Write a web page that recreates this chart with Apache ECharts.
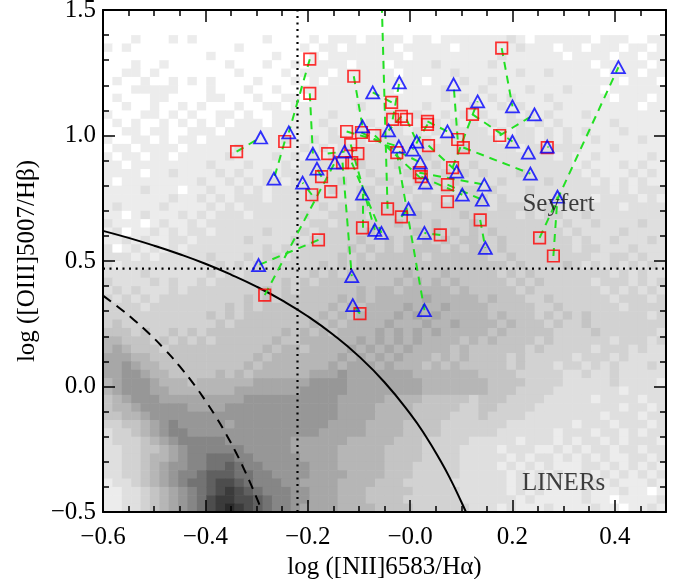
<!DOCTYPE html>
<html>
<head>
<meta charset="utf-8">
<script src="https://cdn.jsdelivr.net/npm/echarts@6/dist/echarts.min.js"></script>
<style>
  html, body { margin: 0; padding: 0; background: #fff; }
  #chart { width: 678px; height: 579px; }
</style>
</head>
<body>
<div id="chart"></div>
<script>
// axis ranges and density grid bins (60 x 60 over the full frame)
const X_MIN = -0.6, X_MAX = 0.5, Y_MIN = -0.5, Y_MAX = 1.5;
const NX = 60, NY = 60;

// grey level per bin, one row per y bin, top row first (top 3 bins are empty)
// 0 = white ... d = darkest
const densityRows = [
  '0001000101 0000000100 0010111011 1101101111 1112101111 1101110011',
  '1010000000 0000100000 0101101111 1011111011 1111211101 1011101101',
  '0000000000 0100000010 0010111111 1101111111 1121111110 1111011011',
  '0001001000 0001000100 1011110111 0111121111 1211111111 1101111101',
  '0011010000 0000100001 0111011111 1011111211 1111211211 1110111011',
  '0100100101 0100001000 1010111111 1111011121 1211111111 1111101110',
  '0001111100 0100010010 0111111111 1011112111 2111121112 1110111111',
  '0100011000 0110001001 1011111111 1111112121 1212111211 1111011101',
  '0010010010 1000100110 1111111211 1111211112 1121211121 1111111011',
  '1000110101 0011010011 1111211111 2112112121 2112121211 1211111111',
  '0101001010 1010111011 1112111121 1211221212 1212212121 1111211111',
  '0011011001 1101111111 1111211212 2212121222 2121221212 1211121111',
  '1001101011 0111111112 1121221212 2222212222 2212221212 1121111211',
  '0110111101 1111211111 1212122222 2122222232 2222122222 2111211111',
  '1011011011 1112111121 2121222222 2222322222 2222222212 1121111121',
  '1101111111 1211121112 1222222322 2322232223 2222222222 1211121211',
  '1111011211 1121211212 2222222232 2232223232 3222322222 2121112121',
  '1011111111 2112121221 2222232223 3223232322 2232222322 2212121211',
  '1111211101 1211212122 2222322332 2332323233 2322232222 2222121222',
  '1111111211 2121222122 2232222333 3323332323 3232222232 2212222121',
  '1211112111 1212122222 2223232333 3333233333 3233322322 2222212222',
  '1101211121 2122212222 2322333323 3334333343 3333232332 2322222222',
  '2111012112 1222222222 2233233333 3433343334 3333333323 2232222322',
  '1201121212 2122222322 2323333343 3334343434 3433333332 3222232222',
  '1121211221 2222232222 3233333433 4343434344 3343333333 2322322232',
  '2012121212 2222222323 2333334343 4344443434 4343333333 2332223222',
  '2221212222 2322232332 3333343434 4444344444 4334333333 3322332322',
  '2122222222 2232323233 3334343444 4444444444 4443433334 3232323232',
  '2222322222 2323233333 3343434444 4454445444 4434343333 3333232322',
  '3222232322 3233333334 3434444444 4545454544 4443434333 3323332323',
  '2323222323 3333333434 3444444545 5455555454 4444343333 3332323232',
  '3232323333 3333343434 4444454545 5555655555 4544433433 3333233323',
  '3333233333 3334343444 4444545455 5565556555 5444443343 3333323333',
  '3333333333 3434344444 4445454555 5656565555 5454443434 3433333323',
  '3433333333 3343444444 4454545555 6555655655 5545444343 3433333333',
  '4443433434 3444444445 4545455556 5656565555 5454444433 3343333332',
  '5544434343 4344444454 4555555656 5656555545 4544443433 3333233323',
  '5654443444 4444444545 5455556565 6565555454 4444434333 3323332322',
  '6665544444 4444445455 5555565656 5655545454 4443433333 2333232222',
  '6676554444 4444454555 5555656665 6555454544 4443433323 3232322232',
  '6677655444 4454545555 5566676666 6665555555 4444333332 2322322222',
  '5677765554 5555556666 6677776666 6666555555 5444433332 2222322221',
  '5677766555 5555666666 6777776666 6666555555 5444333322 2222212222',
  '4567776666 6666677777 7777766666 5555444443 4443333222 2212222122',
  '4556777776 6667777777 7777766665 5554444433 4433332222 2222212212',
  '4455677777 7777777777 7777766665 5554444333 4333322222 2221222122',
  '3344567877 7776777777 7777666655 5544443333 3332222222 1222122212',
  '2334567887 7777777777 7776666655 5544443333 3322222212 2212212122',
  '2333456788 8887777777 6666665555 5444333332 2222122212 1221212221',
  '2233445678 8888877777 6666655555 4444333322 2212221121 2122122122',
  '2233455678 8999887777 7666655555 4444333322 2221212212 1212112212',
  '2233456778 899a988777 7766655555 4443333322 2212121211 1221212121',
  '2233456788 9aaa998877 7766665555 4443333322 2221212121 1212121212',
  '1223456789 9abba98887 7666655554 4433333222 2221212111 1121211121',
  '1122345678 9abcba9888 7766655544 4443333322 2221212111 1211121101',
  '1122345678 9bccbba988 7766655544 4433333322 2222121111 1211011112',
  '1122345678 9bcdcba988 7666655554 4443333332 2212111211 1121101121'
];
const grayLevels = ['#ffffff', '#ececec', '#dfdfdf', '#d2d2d2', '#c4c4c4', '#b6b6b6',
  '#a7a7a7', '#979797', '#868686', '#737373', '#606060', '#4d4d4d', '#3b3b3b', '#2a2a2a'];

// red squares [log NII/Ha, log OIII/Hb]
const squares = [
  [-0.339, 0.936], [-0.245, 0.976], [-0.196, 1.304], [-0.196, 1.168], [-0.161, 0.928],
  [-0.173, 0.836], [-0.192, 0.764], [-0.155, 0.776], [-0.179, 0.584], [-0.284, 0.364],
  [-0.110, 1.236], [-0.036, 1.132], [-0.034, 1.064], [-0.017, 1.076], [-0.007, 1.064],
  [0.034, 1.056], [0.034, 1.044], [-0.124, 1.016], [-0.095, 1.012], [-0.069, 1.000],
  [-0.116, 0.964], [-0.102, 0.928], [-0.132, 0.892], [-0.114, 0.892], [-0.026, 0.932],
  [0.036, 0.960], [0.093, 0.984], [0.104, 0.952], [0.122, 1.084], [0.175, 1.000],
  [0.179, 1.348], [0.268, 0.952], [0.018, 0.852], [0.022, 0.836], [0.083, 0.872],
  [0.073, 0.804], [0.073, 0.736], [-0.044, 0.708], [-0.017, 0.676], [-0.093, 0.632],
  [0.059, 0.604], [0.137, 0.664], [0.253, 0.592], [0.280, 0.520], [-0.098, 0.290]
];
// blue triangles (last one lies above the frame)
const triangles = [
  [-0.292, 0.992], [-0.237, 1.012], [-0.266, 0.828], [-0.190, 0.928], [-0.182, 0.868],
  [-0.210, 0.812], [-0.147, 0.892], [-0.296, 0.484], [-0.073, 1.172], [-0.021, 1.212],
  [0.085, 1.204], [0.132, 1.136], [0.200, 1.116], [0.243, 1.084], [0.407, 1.272],
  [-0.093, 1.036], [-0.042, 1.020], [0.073, 1.016], [0.013, 0.976], [0.200, 0.976],
  [-0.128, 0.936], [-0.022, 0.956], [0.005, 0.944], [0.231, 0.932], [0.020, 0.892],
  [0.091, 0.856], [0.030, 0.812], [0.235, 0.848], [0.145, 0.804], [0.102, 0.764],
  [0.141, 0.744], [0.288, 0.756], [-0.093, 0.768], [-0.003, 0.708], [-0.069, 0.624],
  [-0.056, 0.612], [0.028, 0.612], [0.147, 0.552], [-0.114, 0.440], [-0.112, 0.324],
  [0.028, 0.304], [0.268, 0.956], [-0.058, 1.720]
];
// [square number, triangle number] joined by green dashes
const pairs = [
  [1, 1], [2, 3], [3, 2], [4, 4], [5, 21], [6, 5], [7, 6], [9, 8], [10, 7], [11, 16],
  [12, 9], [13, 10], [14, 17], [15, 19], [16, 18], [17, 23], [18, 22], [19, 25], [20, 27],
  [21, 35], [23, 39], [24, 36], [25, 41], [26, 26], [27, 11], [28, 28], [29, 20], [30, 14],
  [31, 13], [32, 42], [33, 29], [34, 30], [35, 12], [36, 31], [38, 43], [39, 34], [40, 33],
  [41, 37], [42, 38], [43, 15], [44, 32], [45, 40]
];

// demarcation curves
const kewleyLine = [
  [-0.60, 0.620], [-0.55, 0.592], [-0.50, 0.561], [-0.45, 0.527], [-0.40, 0.489],
  [-0.35, 0.446], [-0.30, 0.398], [-0.25, 0.343], [-0.20, 0.280], [-0.15, 0.206],
  [-0.10, 0.120], [-0.05, 0.017], [0.00, -0.108], [0.03, -0.196], [0.06, -0.298],
  [0.08, -0.374], [0.10, -0.459], [0.11, -0.504]
];
const kauffmannLine = [
  [-0.60, 0.362], [-0.57, 0.316], [-0.54, 0.266], [-0.51, 0.211], [-0.48, 0.149],
  [-0.45, 0.080], [-0.42, 0.002], [-0.40, -0.056], [-0.38, -0.119], [-0.36, -0.188],
  [-0.34, -0.264], [-0.32, -0.349], [-0.30, -0.443], [-0.29, -0.494], [-0.288, -0.505]
];
const nIICut = -0.22;
const oIIICut = 0.47;

const regionLabels = [
  { name: 'Seyfert', value: [0.290, 0.725] },
  { name: 'LINERs', value: [0.300, -0.385] }
];

// build heatmap cells (white bins included so the frame area is fully covered)
const dx = (X_MAX - X_MIN) / NX, dy = (Y_MAX - Y_MIN) / NY;
const cells = [];
densityRows.forEach((row, r) => {
  const s = row.replace(/ /g, '');
  const j = NY - 4 - r;
  for (let i = 0; i < s.length && i < NX; i++) {
    const lv = parseInt(s[i], 16);
    cells.push([X_MIN + i * dx, Y_MIN + j * dy, X_MIN + (i + 1) * dx, Y_MIN + (j + 1) * dy, lv]);
  }
});

const pairLines = pairs.map(p => ({ coords: [squares[p[0] - 1], triangles[p[1] - 1]] }));

const FONT = 'Liberation Serif';
const fmtNum = v => {
  if (Math.abs(v) < 1e-9) return '\u22120.0';
  return (v < 0 ? '\u2212' : '') + Math.abs(v).toFixed(1);
};
const fmtY = v => {
  if (Math.abs(v) < 1e-9) return '0.0';
  return (v < 0 ? '\u2212' : '') + Math.abs(v).toFixed(1);
};

const frameLine = { show: true, onZero: false, lineStyle: { color: '#000', width: 2 } };
const majorTick = { show: true, inside: true, length: 12, lineStyle: { color: '#000', width: 1.5 } };

function tickAxis(extra) {
  return Object.assign({
    type: 'value', z: 8,
    axisLine: { show: false, onZero: false },
    axisLabel: { show: false },
    splitLine: { show: false },
    axisTick: { show: true, inside: true, length: 6, lineStyle: { color: '#000', width: 1.5 } }
  }, extra);
}

const chart = echarts.init(document.getElementById('chart'));
chart.setOption({
  animation: false,
  backgroundColor: '#fff',
  grid: { left: 103, right: 12, top: 10, bottom: 67, outerBoundsMode: 'none', containLabel: false },
  xAxis: [
    {
      type: 'value', z: 8, min: X_MIN, max: X_MAX, interval: 0.2, position: 'bottom',
      name: 'log ([NII]6583/H\u03b1)', nameLocation: 'middle', nameGap: 34,
      nameTextStyle: { fontFamily: FONT, fontSize: 25, color: '#000' },
      axisLine: frameLine,
      axisTick: majorTick,
      axisLabel: { formatter: fmtNum, fontFamily: FONT, fontSize: 25, color: '#000', margin: 13, showMaxLabel: false },
      splitLine: { show: false }
    },
    tickAxis({ min: X_MIN, max: X_MAX, interval: 0.05, position: 'bottom' }),
    tickAxis({ min: X_MIN, max: X_MAX, interval: 0.2, position: 'top', axisLine: frameLine, axisTick: majorTick }),
    tickAxis({ min: X_MIN, max: X_MAX, interval: 0.05, position: 'top' })
  ],
  yAxis: [
    {
      type: 'value', z: 8, min: Y_MIN, max: Y_MAX, interval: 0.5, position: 'left',
      name: 'log ([OIII]5007/H\u03b2)', nameLocation: 'middle', nameGap: 60,
      nameTextStyle: { fontFamily: FONT, fontSize: 25, color: '#000' },
      axisLine: frameLine,
      axisTick: majorTick,
      axisLabel: { formatter: fmtY, fontFamily: FONT, fontSize: 25, color: '#000', margin: 7 },
      splitLine: { show: false }
    },
    tickAxis({ min: Y_MIN, max: Y_MAX, interval: 0.1, position: 'left' }),
    tickAxis({ min: Y_MIN, max: Y_MAX, interval: 0.5, position: 'right', axisLine: frameLine, axisTick: majorTick }),
    tickAxis({ min: Y_MIN, max: Y_MAX, interval: 0.1, position: 'right' })
  ],
  series: [
    {
      type: 'custom', silent: true, z: 1,
      data: cells,
      renderItem: (params, api) => {
        const p0 = api.coord([api.value(0), api.value(3)]);
        const p1 = api.coord([api.value(2), api.value(1)]);
        return {
          type: 'rect',
          shape: { x: p0[0], y: p0[1], width: p1[0] - p0[0] + 0.6, height: p1[1] - p0[1] + 0.6 },
          style: { fill: grayLevels[api.value(4)] }
        };
      }
    },
    {
      type: 'line', z: 3, silent: true, showSymbol: false, smooth: true,
      data: kauffmannLine,
      lineStyle: { color: '#000', width: 2, type: [10, 7] }
    },
    {
      type: 'line', z: 3, silent: true, showSymbol: false, smooth: true,
      data: kewleyLine,
      lineStyle: { color: '#000', width: 2 }
    },
    {
      type: 'line', z: 3, silent: true, showSymbol: false,
      data: [[nIICut, Y_MIN], [nIICut, Y_MAX]],
      lineStyle: { color: '#000', width: 2.2, type: [2, 4.5] }
    },
    {
      type: 'line', z: 3, silent: true, showSymbol: false,
      data: [[X_MIN, oIIICut], [X_MAX, oIIICut]],
      lineStyle: { color: '#000', width: 2.2, type: [2, 4.5] }
    },
    {
      type: 'lines', coordinateSystem: 'cartesian2d', z: 4, silent: true, clip: true,
      data: pairLines,
      lineStyle: { color: '#22e022', width: 2, type: [8, 6], opacity: 1 }
    },
    {
      type: 'scatter', z: 5, silent: true, clip: true,
      data: squares, symbol: 'rect', symbolSize: 11.5,
      itemStyle: { color: 'rgba(0,0,0,0)', borderColor: '#ff0000', borderWidth: 1.7 }
    },
    {
      type: 'scatter', z: 5, silent: true, clip: true,
      data: triangles, symbol: 'triangle', symbolSize: [13, 12],
      itemStyle: { color: 'rgba(0,0,0,0)', borderColor: '#0000ff', borderWidth: 1.8 }
    },
    {
      type: 'scatter', z: 6, silent: true,
      data: regionLabels, symbolSize: 1,
      itemStyle: { color: 'rgba(0,0,0,0)' },
      label: { show: true, position: 'inside', formatter: '{b}', fontFamily: FONT, fontSize: 25, color: '#111' }
    }
  ]
});
</script>
</body>
</html>
